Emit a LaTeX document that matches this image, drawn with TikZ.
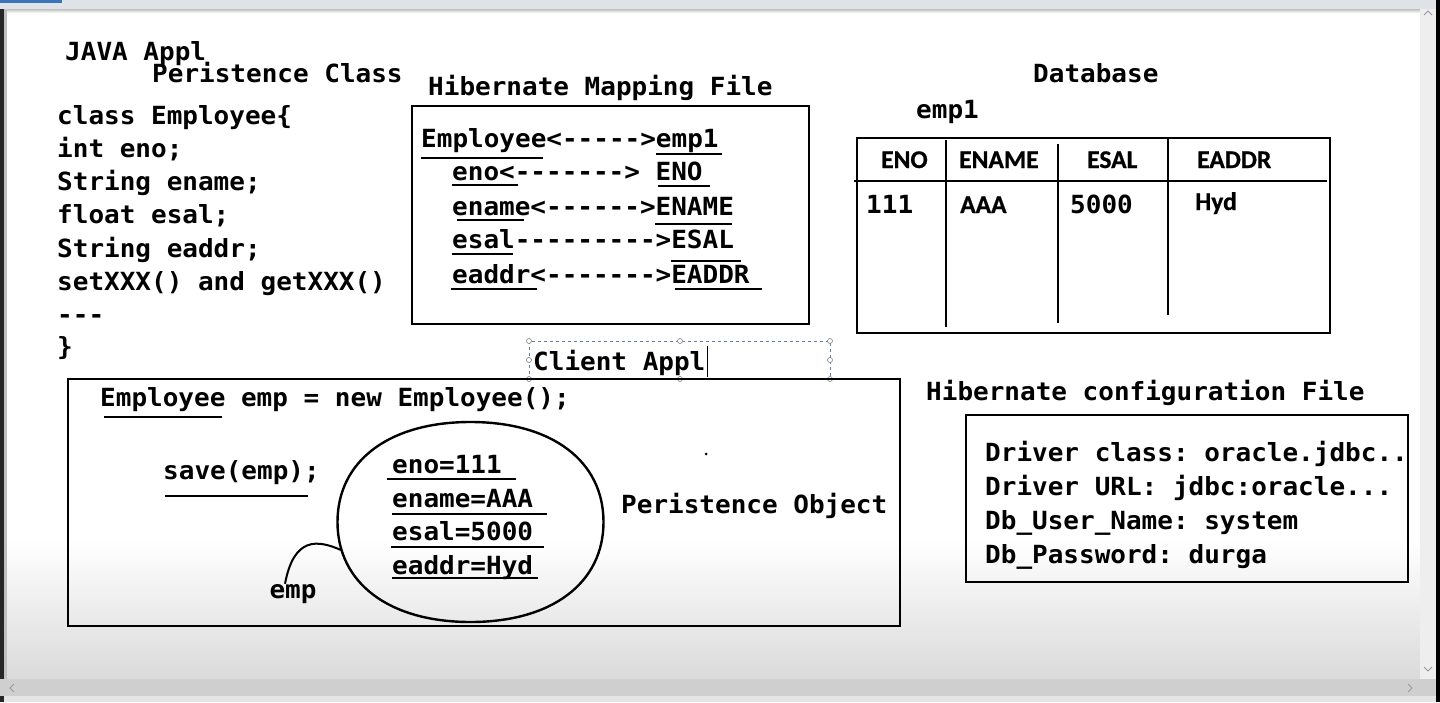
\documentclass[tikz,border=0pt]{standalone}
\usepackage{fontspec}
\setmonofont{DejaVu Sans Mono}[FakeStretch=1.04]
\newfontfamily\tblfont{Carlito}[BoldFeatures={FakeBold=0.7}]
\usepackage{tikz}

\definecolor{barbg}{HTML}{DFE3E8}
\definecolor{winblue}{HTML}{3B73B9}
\definecolor{slidegray}{HTML}{DADADA}
\definecolor{scrollbg}{HTML}{EEEEEE}
\definecolor{hbar}{HTML}{CFCFCF}
\definecolor{selblue}{HTML}{5B7FA6}

\begin{document}
\begin{tikzpicture}[x=1pt, y=-1pt,
    code/.style = {font=\ttfamily\bfseries\fontsize{25}{33}\selectfont, inner sep=0pt, anchor=base west},
    head/.style = {font=\tblfont\bfseries\fontsize{25.5}{30}\selectfont, inner sep=0pt, anchor=base west},
    box/.style = {draw, line width=2.6pt},
    uline/.style = {line width=2.6pt},
    chev/.style = {draw=black!40, line width=1pt},
    selbox/.style = {draw=selblue, dashed, line width=0.8pt},
    handle/.style = {draw=black!50, fill=white, line width=0.6pt}]

    % window and slide
    \useasboundingbox (0,0) rectangle (1440,702);
    \fill[white] (0,0) rectangle (1440,702);
    \shade[top color=white, bottom color=slidegray] (6,540) rectangle (1420,679);
    \fill[barbg] (0,0) rectangle (1440,9);
    \fill[winblue] (0,0) rectangle (62,3);
    \shade[top color=black!25, bottom color=white] (6,9) rectangle (1420,13);
    \fill[black!85] (0,9) rectangle (4,702);
    \fill[black!25] (4,9) rectangle (7,679);
    \fill[scrollbg] (1420,9) rectangle (1436,679);
    \fill[hbar] (0,679) rectangle (1436,696);
    \fill[black!10] (4,696) rectangle (1436,702);
    \fill[black] (1436,0) rectangle (1440,702);
    \draw[chev] (1424,15) -- (1428,11) -- (1432,15);
    \draw[chev] (1424,667) -- (1428,671) -- (1432,667);
    \draw[chev] (14,684) -- (10,688) -- (14,692);
    \draw[chev] (1408,684) -- (1412,688) -- (1408,692);

    % persistence class
    \node [code] (java) at (65,60) {JAVA Appl};
    \node [code] (pclass) at (152,82) {Peristence Class};
    \node [code] (c1) at (57,124) {class Employee\{};
    \node [code] (c2) at (57,157) {int eno;};
    \node [code] (c3) at (57,190) {String ename;};
    \node [code] (c4) at (57,223) {float esal;};
    \node [code] (c5) at (57,257) {String eaddr;};
    \node [code] (c6) at (57,290) {setXXX() and getXXX()};
    \node [code] (c7) at (57,323) {---};
    \node [code] (c8) at (57,355) {\}};

    % mapping file
    \node [code] (mapttl) at (428,95) {Hibernate Mapping File};
    \draw [box] (412,106) rectangle (809,324);
    \node [code] (m1) at (421,147) {Employee<----->emp1};
    \node [code] (m2) at (452,180) {eno<-------> ENO};
    \node [code] (m3) at (452,215) {ename<------>ENAME};
    \node [code] (m4) at (452,248) {esal--------->ESAL};
    \node [code] (m5) at (452,283) {eaddr<------->EADDR};
    \draw [uline] (421,158) -- (543,158);
    \draw [uline] (656,154) -- (722,154);
    \draw [uline] (452,185) -- (518,185);
    \draw [uline] (658,186) -- (710,186);
    \draw [uline] (457,220) -- (524,220);
    \draw [uline] (655,224) -- (732,224);
    \draw [uline] (452,254) -- (513,254);
    \draw [uline] (671,261) -- (741,261);
    \draw [uline] (451,289) -- (537,289);
    \draw [uline] (675,289) -- (762,289);

    % database table
    \node [code] (dbttl) at (1033,82) {Database};
    \node [code] (tname) at (916,118) {emp1};
    \draw [box] (857,138) rectangle (1330,333);
    \draw [uline] (854,181) -- (1327,181);
    \draw [uline] (946,140) -- (946,327);
    \draw [uline] (1058,144) -- (1058,323);
    \draw [uline] (1168,138) -- (1168,315);
    \node [head] (hENO) at (881,168) {ENO};
    \node [head] (hENAME) at (959,168) {ENAME};
    \node [head] (hESAL) at (1087,168) {ESAL};
    \node [head] (hEADDR) at (1197,168) {EADDR};
    \node [code] (r1) at (866,213) {111};
    \node [head] (r2) at (960,213) {AAA};
    \node [code] (r3) at (1070,213) {5000};
    \node [head] (r4) at (1195,210) {Hyd};

    % client application
    \draw [selbox] (529,341) rectangle (830,379);
    \foreach \p in {(529,341),(680,341),(830,341),(529,360),(830,360),(529,379),(680,379),(830,379)}
        \draw [handle] \p circle (2.5);
    \node [code] (client) at (533,370) {Client Appl};
    \draw [line width=1pt] (707,346) -- (707,377);
    \draw [box] (68,379) rectangle (900,626);
    \node [code] (newemp) at (100,406) {Employee emp = new Employee();};
    \draw [uline] (104,417) -- (222,417);
    \node [code] (save) at (163,479) {save(emp);};
    \draw [uline] (165,496) -- (308,496);
    % persistence object
    \draw [line width=2.4pt] (603.5,522) .. controls (603.5,583) and (552,622) .. (470.5,622)
        .. controls (389,622) and (337.5,583) .. (337.5,522)
        .. controls (337.5,461) and (389,422) .. (470.5,422)
        .. controls (552,422) and (603.5,461) .. (603.5,522) -- cycle;
    \coordinate (pjoin) at (341,550);
    \node [code] (f1) at (392,473) {eno=111};
    \node [code] (f2) at (392,507) {ename=AAA};
    \node [code] (f3) at (392,540) {esal=5000};
    \node [code] (f4) at (392,574) {eaddr=Hyd};
    \draw [uline] (387,479) -- (516,479);
    \draw [uline] (392,514) -- (547,514);
    \draw [uline] (391,547) -- (544,547);
    \draw [uline] (392,578) -- (538,578);
    \node [code] (pobjlbl) at (621,513) {Peristence Object};
    \node [code, anchor=base] (emplbl) at (293,598) {emp};
    \draw [line width=2pt] (pjoin) .. controls (318,540) and (294,536) .. ([xshift=-8pt]emplbl.north);
    \fill (706,454) circle (1.5);

    % configuration file
    \node [code] (cfgttl) at (926,400) {Hibernate configuration File};
    \draw [box] (966,415) rectangle (1408,582);
    \node [code] (d1) at (985,461) {Driver class: oracle.jdbc..};
    \node [code] (d2) at (985,495) {Driver URL: jdbc:oracle...};
    \node [code] (d3) at (985,529) {Db\_User\_Name: system};
    \node [code] (d4) at (985,563) {Db\_Password: durga};

\end{tikzpicture}
\end{document}
